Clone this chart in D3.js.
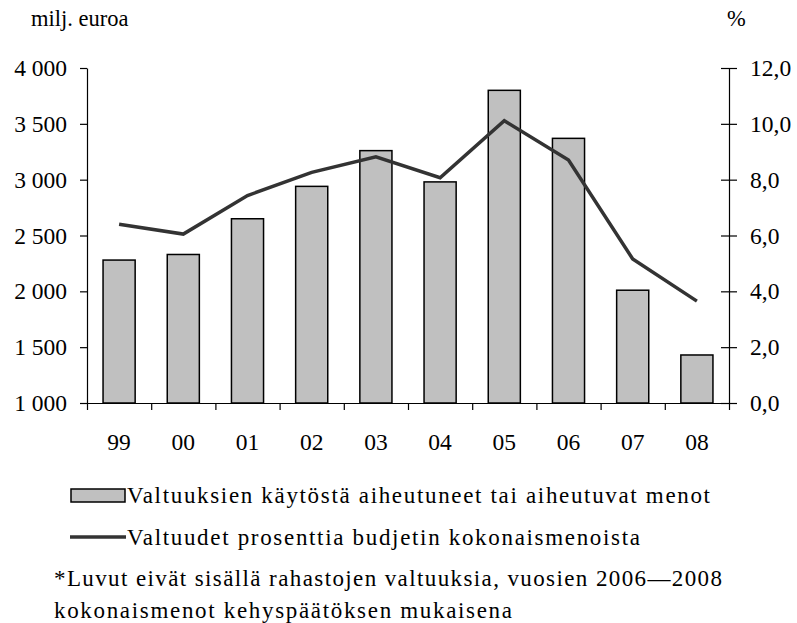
<!DOCTYPE html>
<html>
<head>
<meta charset="utf-8">
<script src="https://cdn.jsdelivr.net/npm/d3@7"></script>
<style>
  body { margin: 0; background: #fff; }
</style>
</head>
<body>
<svg width="797" height="623"></svg>
<script>
// data
var years = ["99", "00", "01", "02", "03", "04", "05", "06", "07", "08"];
var menot = [2280, 2330, 2650, 2940, 3260, 2980, 3800, 3370, 2010, 1430];
var prosentti = [6.40, 6.05, 7.43, 8.26, 8.82, 8.07, 10.11, 8.70, 5.16, 3.65];
var leftTicks = [1000, 1500, 2000, 2500, 3000, 3500, 4000];
var rightTicks = [0, 2, 4, 6, 8, 10, 12];

var legendBar = "Valtuuksien käytöstä aiheutuneet tai aiheutuvat menot";
var legendLine = "Valtuudet prosenttia budjetin kokonaismenoista";
var note1 = "*Luvut eivät sisällä rahastojen valtuuksia, vuosien 2006\u20142008";
var note2 = "kokonaismenot kehyspäätöksen mukaisena";

var plot = {left: 87, right: 729, top: 68, bottom: 403};
var fontSize = 23.5;
var serif = "Liberation Serif, Times New Roman, serif";

var fi = d3.formatLocale({decimal: ",", thousands: "\u00a0", grouping: [3]});

var svg = d3.select("svg");

var x = d3.scaleBand().domain(years).range([plot.left, plot.right]);
var xEdges = d3.scaleLinear().domain([0, years.length]).range([plot.left, plot.right]);
var yL = d3.scaleLinear().domain([1000, 4000]).range([plot.bottom, plot.top]);
var yR = d3.scaleLinear().domain([0, 12]).range([plot.bottom, plot.top]);

// bars
svg.append("g").selectAll("rect")
  .data(years)
  .enter().append("rect")
  .attr("x", (d) => x(d) + x.bandwidth() / 4)
  .attr("width", x.bandwidth() / 2)
  .attr("y", (d, i) => yL(menot[i]))
  .attr("height", (d, i) => yL(1000) - yL(menot[i]))
  .attr("fill", "#c0c0c0")
  .attr("stroke", "#000")
  .attr("stroke-width", 1.5);

// line
var line = d3.line()
  .x((d, i) => x(years[i]) + x.bandwidth() / 2)
  .y((d) => yR(d));

svg.append("path")
  .attr("d", line(prosentti))
  .attr("fill", "none")
  .attr("stroke", "#333")
  .attr("stroke-width", 3.5);

// axes
var leftAxis = d3.axisLeft(yL)
  .tickValues(leftTicks)
  .tickSize(7)
  .tickSizeOuter(0)
  .tickPadding(13)
  .tickFormat(fi.format(",d"));

var gl = svg.append("g")
  .attr("transform", "translate(" + plot.left + ",0)")
  .call(leftAxis);

var rightAxis = d3.axisRight(yR)
  .tickValues(rightTicks)
  .tickSize(8)
  .tickSizeOuter(0)
  .tickPadding(13)
  .tickFormat(fi.format(",.1f"));

var gr = svg.append("g")
  .attr("transform", "translate(" + plot.right + ",0)")
  .call(rightAxis);
gr.selectAll(".tick line").attr("x1", -8);

var bottomAxis = d3.axisBottom(xEdges)
  .tickValues(d3.range(years.length + 1))
  .tickSize(7)
  .tickSizeOuter(0)
  .tickFormat("");

var gb = svg.append("g")
  .attr("transform", "translate(0," + plot.bottom + ")")
  .call(bottomAxis);

var labels = d3.axisBottom(x).tickSize(0).tickPadding(39);
var gx = svg.append("g")
  .attr("transform", "translate(0," + plot.bottom + ")")
  .call(labels);
gx.select(".domain").remove();

[gl, gr, gb, gx].forEach(function(g) {
  g.attr("font-family", null).attr("font-size", null);
  g.selectAll("text").attr("fill", "#000")
    .style("font-family", serif).style("font-size", fontSize + "px");
  g.selectAll("line, path").attr("stroke", "#000").attr("stroke-width", 1.2);
});
gx.selectAll("text").attr("dy", "0.35em");

// axis titles
svg.append("text").attr("x", 31).attr("y", 26).text("milj. euroa")
  .style("font-family", serif).style("font-size", "22.5px");
svg.append("text").attr("x", 727).attr("y", 26).text("%")
  .style("font-family", serif).style("font-size", "22.5px");

// legend
var lg = svg.append("g");
lg.append("rect")
  .attr("x", 71).attr("y", 489).attr("width", 54).attr("height", 13)
  .attr("fill", "#c0c0c0").attr("stroke", "#000").attr("stroke-width", 1.5);
lg.append("line")
  .attr("x1", 70).attr("x2", 126).attr("y1", 537).attr("y2", 537)
  .attr("stroke", "#333").attr("stroke-width", 3.5);

var legendTexts = [
  {t: legendBar, x: 127, y: 503, w: 583},
  {t: legendLine, x: 127, y: 545, w: 513},
  {t: note1, x: 54, y: 586, w: 668},
  {t: note2, x: 54, y: 618, w: 458}
];
lg.selectAll("text.lt")
  .data(legendTexts)
  .enter().append("text")
  .attr("class", "lt")
  .attr("x", (d) => d.x)
  .attr("y", (d) => d.y)
  .attr("textLength", (d) => d.w)
  .attr("lengthAdjust", "spacing")
  .style("font-family", serif)
  .style("font-size", "23px")
  .text((d) => d.t);
</script>
</body>
</html>
